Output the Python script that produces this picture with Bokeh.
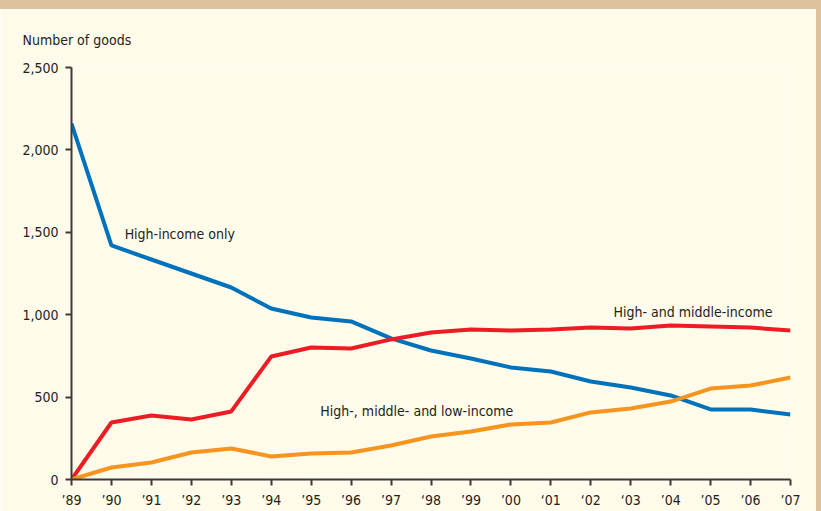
from bokeh.plotting import figure
from bokeh.models import (Range1d, FixedTicker, NumeralTickFormatter, Label, Title, Spacer)
from bokeh.layouts import row, column
from bokeh.embed import file_html
from bokeh.resources import INLINE

years = list(range(1989, 2008))
year_labels = ["\u201989", "\u201990", "\u201991", "\u201992", "\u201993", "\u201994",
               "\u201995", "\u201996", "\u201997", "\u201898", "\u201999", "\u201900",
               "\u201801", "\u201802", "\u201803", "\u201904", "\u201905", "\u201906", "\u201907"]
high_only = [2160, 1420, 1335, 1250, 1165, 1038, 983, 959, 856, 783, 734, 680, 655,
             595, 558, 510, 425, 425, 394]
high_middle = [0, 346, 388, 364, 413, 746, 801, 795, 850, 892, 910, 904, 910,
               922, 916, 934, 928, 922, 904]
all_income = [0, 73, 103, 164, 188, 140, 158, 164, 206, 261, 291, 334, 346,
              407, 431, 473, 552, 570, 619]
y_ticks = [0, 500, 1000, 1500, 2000, 2500]

FONT = "'DejaVu Sans Condensed', 'Roboto Condensed', 'Liberation Sans Narrow', Roboto"
FS = "14px"
BG = "#fefbea"
TAN = "#dcc39c"
AXIS = "#3a3a3a"
TXT = "#231f20"

p = figure(width=816, height=502, output_backend="svg", toolbar_location=None,
           x_range=Range1d(1989, 2007), y_range=Range1d(0, 2500),
           min_border_left=71, min_border_right=26, min_border_top=58, min_border_bottom=32)
p.background_fill_color = BG
p.border_fill_color = BG
p.outline_line_color = None
p.grid.grid_line_color = None

p.add_layout(Title(text="Number of goods", align="left", offset=-49, standoff=39,
                   text_font=FONT, text_font_size=FS, text_font_style="normal",
                   text_color=TXT), "above")

p.line(years, high_only, line_color="#0072bc", line_width=4)
p.line(years, high_middle, line_color="#ed1c24", line_width=4)
p.line(years, all_income, line_color="#f7941d", line_width=4)

for ax in (p.xaxis[0], p.yaxis[0]):
    ax.axis_line_color = AXIS
    ax.axis_line_width = 2
    ax.major_tick_line_color = AXIS
    ax.major_tick_line_width = 2
    ax.major_tick_in = 0
    ax.major_tick_out = 6
    ax.minor_tick_line_color = None
    ax.major_label_text_font = FONT
    ax.major_label_text_font_size = FS
    ax.major_label_text_color = TXT

p.xaxis.ticker = FixedTicker(ticks=years)
p.xaxis.major_label_overrides = {y: l for y, l in zip(years, year_labels)}
p.xaxis.major_label_standoff = 6
p.yaxis.ticker = FixedTicker(ticks=y_ticks)
p.yaxis.formatter = NumeralTickFormatter(format="0,0")
p.yaxis.major_label_standoff = 7

labels = [("High-income only", 1990.33, 1487),
          ("High- and middle-income", 2002.57, 1019),
          ("High-, middle- and low-income", 1995.23, 413)]
for t, x, y in labels:
    p.add_layout(Label(x=x, y=y, text=t, text_font=FONT, text_font_size=FS,
                       text_color=TXT, text_baseline="middle", text_align="left"))

top = Spacer(width=821, height=9, styles={"background-color": TAN})
side = Spacer(width=5, height=502, styles={"background-color": TAN})
layout = column(top, row(p, side, spacing=0), spacing=0)

open("out.html", "w").write(file_html(layout, INLINE))
